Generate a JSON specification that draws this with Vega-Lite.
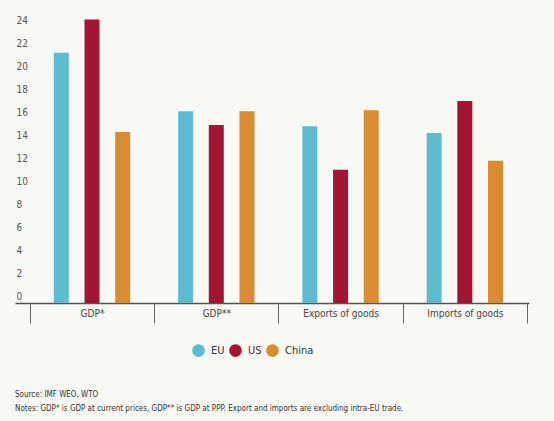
{
  "$schema": "https://vega.github.io/schema/vega-lite/v6.json",
  "width": 514,
  "height": 287,
  "autosize": {"type": "none"},
  "padding": {"left": 15, "top": 16, "right": 25, "bottom": 118},
  "background": "#f8f8f4",
  "config": {
    "view": {"stroke": null},
    "font": "Liberation Sans Narrow, DejaVu Sans Condensed, Roboto Condensed, Liberation Sans, sans-serif"
  },
  "title": {
    "text": "Source: IMF WEO, WTO",
    "subtitle": "Notes: GDP* is GDP at current prices, GDP** is GDP at PPP. Export and imports are excluding intra-EU trade.",
    "orient": "bottom",
    "anchor": "start",
    "frame": "group",
    "fontSize": 8,
    "fontWeight": "normal",
    "subtitleFontSize": 8,
    "color": "#333333",
    "subtitleColor": "#333333",
    "offset": 34,
    "subtitlePadding": 6
  },
  "data": {
    "values": [
      {"indicator": "GDP*", "region": "EU", "value": 21.8},
      {"indicator": "GDP*", "region": "US", "value": 24.7},
      {"indicator": "GDP*", "region": "China", "value": 14.9},
      {"indicator": "GDP**", "region": "EU", "value": 16.7},
      {"indicator": "GDP**", "region": "US", "value": 15.5},
      {"indicator": "GDP**", "region": "China", "value": 16.7},
      {"indicator": "Exports of goods", "region": "EU", "value": 15.4},
      {"indicator": "Exports of goods", "region": "US", "value": 11.6},
      {"indicator": "Exports of goods", "region": "China", "value": 16.8},
      {"indicator": "Imports of goods", "region": "EU", "value": 14.8},
      {"indicator": "Imports of goods", "region": "US", "value": 17.6},
      {"indicator": "Imports of goods", "region": "China", "value": 12.4}
    ]
  },
  "mark": {"type": "bar"},
  "encoding": {
    "x": {
      "field": "indicator",
      "type": "nominal",
      "sort": ["GDP*", "GDP**", "Exports of goods", "Imports of goods"],
      "scale": {"paddingInner": 0, "paddingOuter": 0.068, "align": 0.88},
      "axis": {
        "title": null,
        "tickBand": "extent",
        "tickSize": 20,
        "tickColor": "#666666",
        "domainColor": "#555555",
        "domainWidth": 1.5,
        "labelPadding": -15,
        "labelAngle": 0,
        "labelFontSize": 10,
        "labelColor": "#444444"
      }
    },
    "xOffset": {
      "field": "region",
      "type": "nominal",
      "sort": ["EU", "US", "China"],
      "scale": {"paddingInner": 0.511, "paddingOuter": 0.78}
    },
    "y": {
      "field": "value",
      "type": "quantitative",
      "scale": {"domain": [0, 25], "nice": false},
      "axis": {
        "title": null,
        "domain": false,
        "ticks": false,
        "grid": false,
        "values": [0, 2, 4, 6, 8, 10, 12, 14, 16, 18, 20, 22, 24],
        "labelAlign": "left",
        "labelPadding": -1,
        "labelBaseline": "alphabetic",
        "labelOffset": -4,
        "labelFontSize": 10,
        "labelColor": "#555555"
      }
    },
    "color": {
      "field": "region",
      "type": "nominal",
      "sort": ["EU", "US", "China"],
      "scale": {"domain": ["EU", "US", "China"], "range": ["#5fbbcf", "#a31535", "#d98c31"]},
      "legend": {
        "orient": "none",
        "legendX": 177,
        "legendY": 328,
        "direction": "horizontal",
        "title": null,
        "symbolType": "circle",
        "symbolSize": 160,
        "symbolStrokeWidth": 0,
        "labelFontSize": 11,
        "labelColor": "#333333",
        "columnPadding": 4,
        "labelOffset": 6
      }
    }
  }
}
